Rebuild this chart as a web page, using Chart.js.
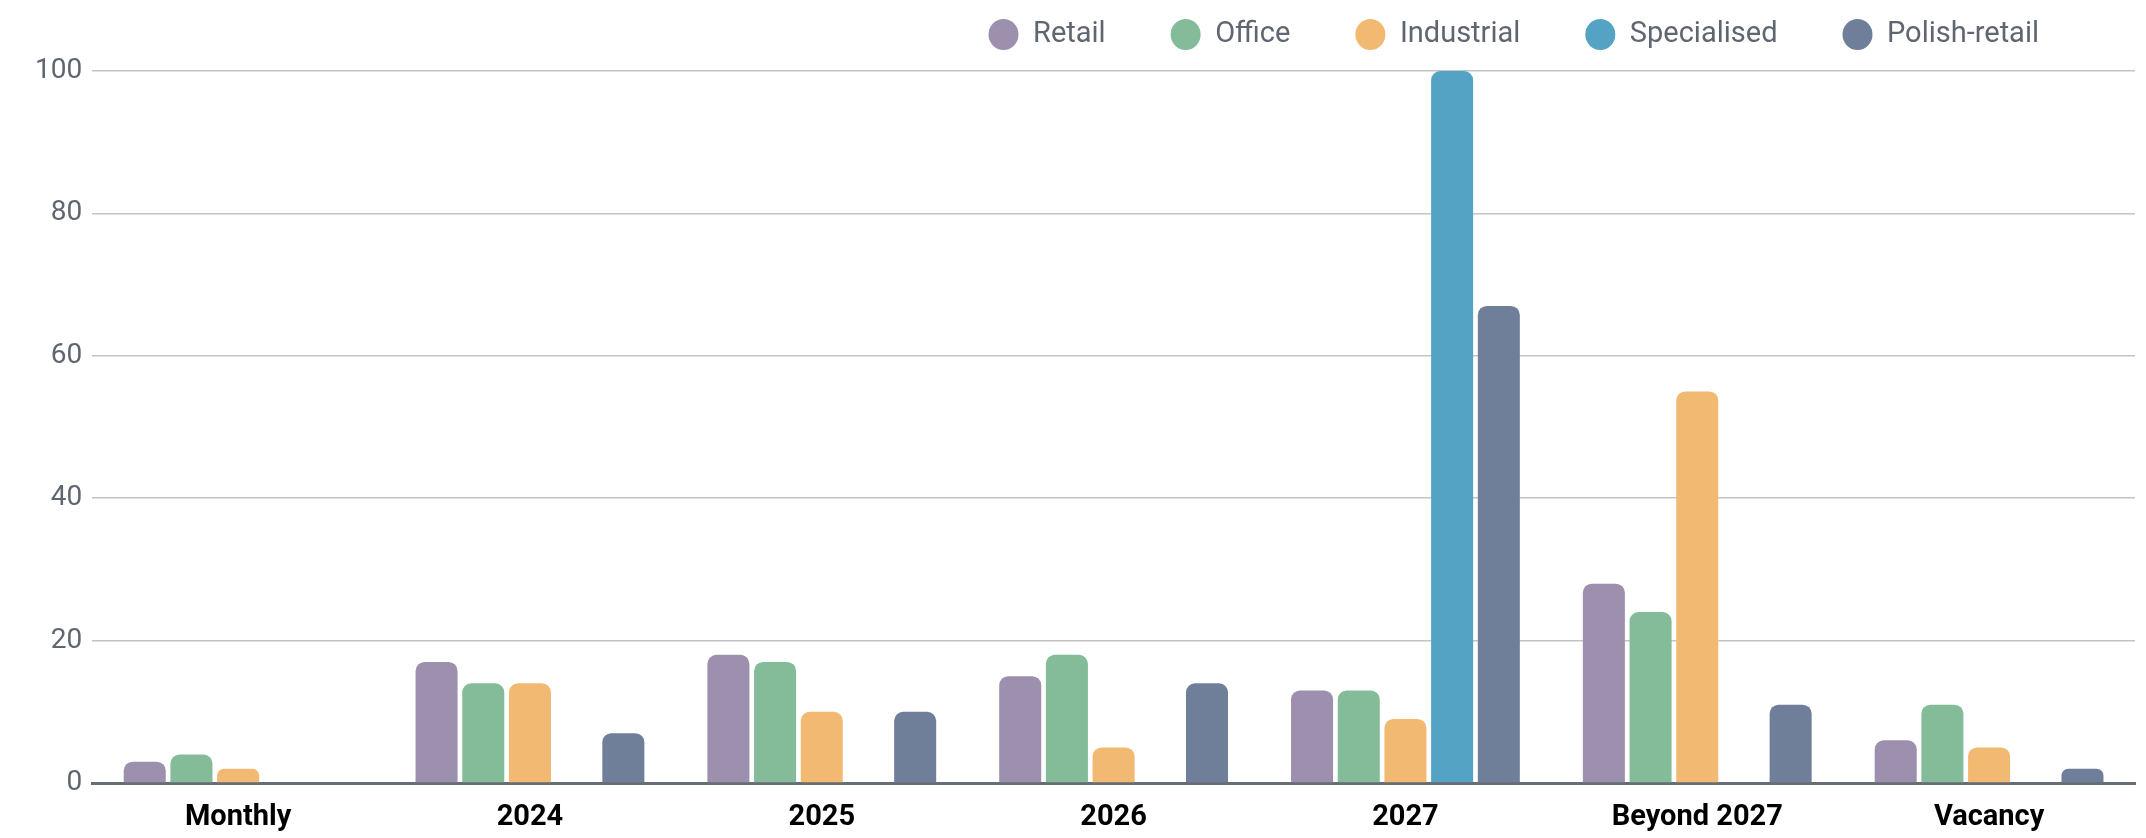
<!DOCTYPE html>
<html>
<head>
<meta charset="utf-8">
<script src="https://cdn.jsdelivr.net/npm/chart.js@4"></script>
<style>
  body { margin: 0; background: #fff; }
  #wrap { width: 2146px; height: 838px; }
</style>
</head>
<body>
<div id="wrap"><canvas id="leaseChart" width="2146" height="838"></canvas></div>
<script>
const categories = ['Monthly', '2024', '2025', '2026', '2027', 'Beyond 2027', 'Vacancy'];
const retail = [3, 17, 18, 15, 13, 28, 6];
const office = [4, 14, 17, 18, 13, 24, 11];
const industrial = [2, 14, 10, 5, 9, 55, 5];
const specialised = [null, null, null, null, 100, null, null];
const polishRetail = [null, 7, 10, 14, 67, 11, 2];
const yTicks = [0, 20, 40, 60, 80, 100];

const legendSpacer = {
    id: 'legendSpacer',
    beforeInit(chart) {
        const origFit = chart.legend.fit;
        chart.legend.fit = function () {
            origFit.bind(chart.legend)();
            this.height += 12;
        };
    },
    beforeDraw(chart) {
        // legend ends well before the plot's right edge
        chart.legend.right = 2104;
    }
};

const ctx = document.getElementById('leaseChart').getContext('2d');
new Chart(ctx, {
    type: 'bar',
    data: {
        labels: categories,
        datasets: [
            { label: 'Retail', data: retail, backgroundColor: '#9d8fae' },
            { label: 'Office', data: office, backgroundColor: '#84bb98' },
            { label: 'Industrial', data: industrial, backgroundColor: '#f2b972' },
            { label: 'Specialised', data: specialised, backgroundColor: '#54a3c5' },
            { label: 'Polish-retail', data: polishRetail, backgroundColor: '#6f7f99' }
        ].map(ds => Object.assign(ds, {
            borderRadius: { topLeft: 9, topRight: 9 },
            borderSkipped: 'bottom',
            categoryPercentage: 0.8,
            barPercentage: 0.9
        }))
    },
    options: {
        responsive: false,
        animation: false,
        layout: { padding: { top: -45, left: 25, right: 11, bottom: 0 } },
        plugins: {
            tooltip: { enabled: false },
            legend: {
                position: 'top',
                align: 'end',
                labels: {
                    usePointStyle: true,
                    pointStyle: 'circle',
                    boxHeight: 22,
                    pointStyleWidth: 30,
                    padding: 65,
                    color: '#5f6670',
                    font: { family: 'Roboto', size: 29 }
                }
            }
        },
        scales: {
            x: {
                afterFit(scale) { scale.height = 55; },
                grid: { display: false, drawTicks: false },
                border: { display: true, color: '#666d75', width: 3 },
                ticks: {
                    color: '#000',
                    padding: 17,
                    font: { family: 'Roboto', size: 29, weight: 'bold' }
                }
            },
            y: {
                min: 0,
                max: 100,
                afterBuildTicks(axis) { axis.ticks = yTicks.map(v => ({ value: v })); },
                grid: { color: '#c4c4c4', lineWidth: 1.5, drawTicks: false },
                border: { display: false },
                ticks: {
                    color: '#5f6670',
                    padding: 10,
                    font: { family: 'Roboto', size: 28 }
                }
            }
        }
    },
    plugins: [legendSpacer]
});
</script>
</body>
</html>
